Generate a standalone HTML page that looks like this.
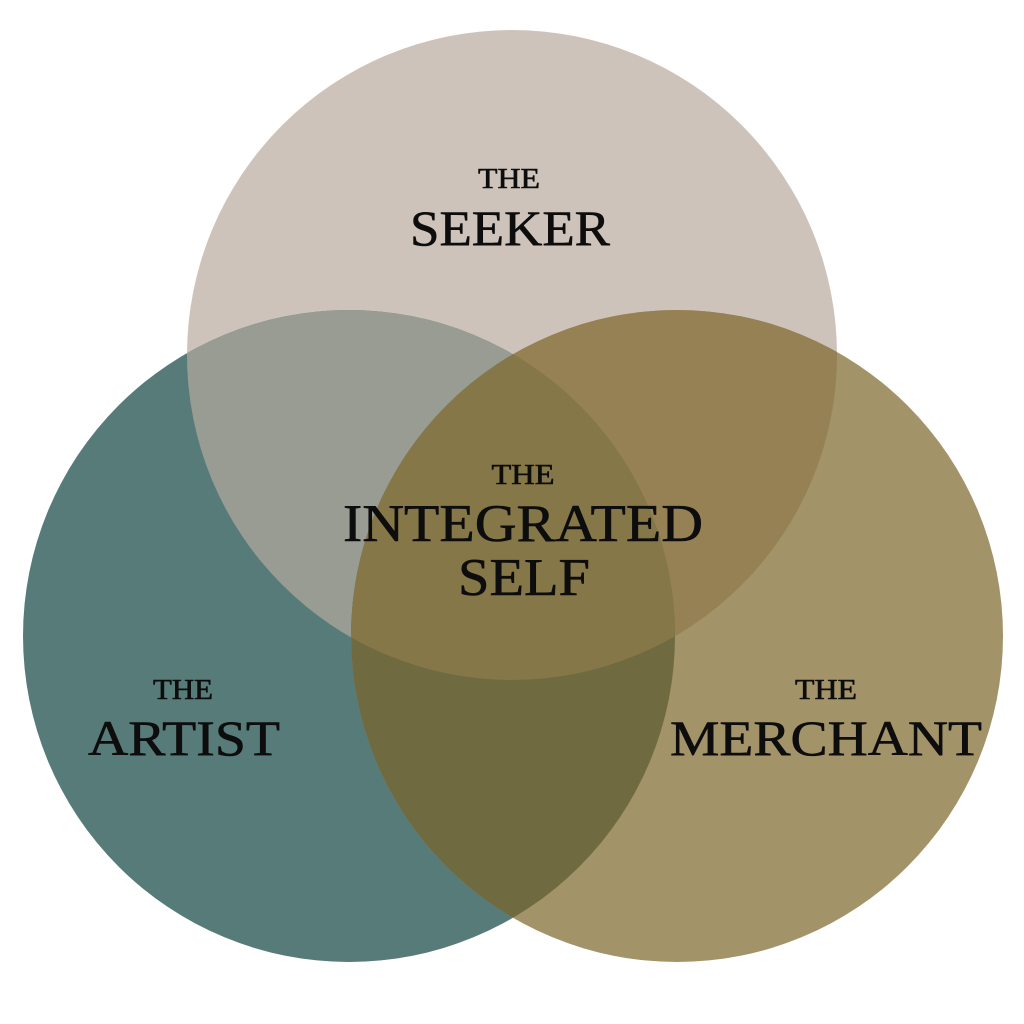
<!DOCTYPE html>
<html><head><style>html,body{margin:0;padding:0;background:#fff}svg{display:block}</style></head>
<body>
<svg width="1024" height="1024" viewBox="0 0 1024 1024" xmlns="http://www.w3.org/2000/svg">
<defs>
<clipPath id="cT"><circle cx="512" cy="355" r="325"/></clipPath>
<clipPath id="cL"><circle cx="349" cy="636" r="326"/></clipPath>
<clipPath id="cR"><circle cx="677" cy="636" r="326"/></clipPath>
</defs>
<rect width="1024" height="1024" fill="#fff"/>
<circle cx="512" cy="355" r="325" fill="#cdc3bb"/>
<circle cx="349" cy="636" r="326" fill="#577b79"/>
<circle cx="677" cy="636" r="326" fill="#a39368"/>
<g clip-path="url(#cT)"><circle cx="349" cy="636" r="326" fill="#989c93"/><circle cx="677" cy="636" r="326" fill="#958153"/></g>
<g clip-path="url(#cL)"><circle cx="677" cy="636" r="326" fill="#6f6a40"/></g>
<g clip-path="url(#cT)"><g clip-path="url(#cL)"><circle cx="677" cy="636" r="326" fill="#857747"/></g></g>
<g font-family="'Liberation Serif', serif" fill="#0d0d0d" stroke="#0d0d0d" stroke-width="0.6" text-anchor="middle">
<text x="509" y="188" font-size="28" textLength="62" lengthAdjust="spacingAndGlyphs">THE</text>
<text x="510" y="245" font-size="50" textLength="200" lengthAdjust="spacingAndGlyphs">SEEKER</text>
<text x="523" y="484" font-size="28" textLength="63" lengthAdjust="spacingAndGlyphs">THE</text>
<text x="523" y="541" font-size="53" textLength="360" lengthAdjust="spacingAndGlyphs">INTEGRATED</text>
<text x="524" y="595" font-size="53" textLength="132" lengthAdjust="spacingAndGlyphs">SELF</text>
<text x="183" y="699" font-size="28" textLength="60" lengthAdjust="spacingAndGlyphs">THE</text>
<text x="184" y="755" font-size="50" textLength="192" lengthAdjust="spacingAndGlyphs">ARTIST</text>
<text x="826" y="699" font-size="28" textLength="62" lengthAdjust="spacingAndGlyphs">THE</text>
<text x="826" y="755" font-size="50" textLength="312" lengthAdjust="spacingAndGlyphs">MERCHANT</text>
</g>
</svg>
</body></html>
